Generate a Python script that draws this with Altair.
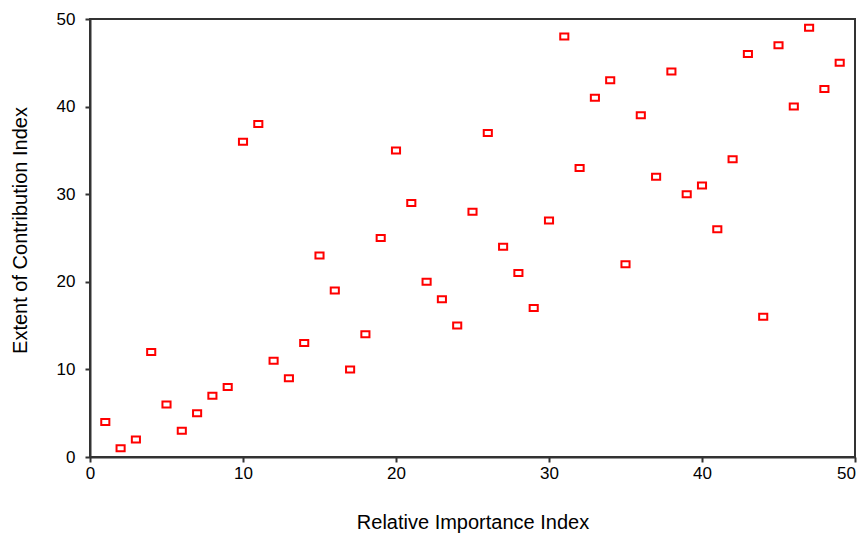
import altair as alt
import pandas as pd

relative_importance = list(range(1, 50))
extent_contribution = [4, 1, 2, 12, 6, 3, 5, 7, 8, 36, 38, 11, 9, 13, 23, 19, 10, 14, 25, 35,
                       29, 20, 18, 15, 28, 37, 24, 21, 17, 27, 48, 33, 41, 43, 22, 39, 32, 44, 30, 31,
                       26, 34, 46, 16, 47, 40, 49, 42, 45]
x_ticks = [0, 10, 20, 30, 40, 50]
y_ticks = [0, 10, 20, 30, 40, 50]

df = pd.DataFrame({"x": relative_importance, "y": extent_contribution})

chart = alt.Chart(df).mark_point(
    shape="M-1.35,-1L1.35,-1L1.35,1L-1.35,1Z",
    size=36,
    filled=False,
    color="#ff0000",
    strokeWidth=2,
    opacity=1,
).encode(
    x=alt.X("x:Q", scale=alt.Scale(domain=[0, 50], nice=False, zero=False),
            axis=alt.Axis(title="Relative Importance Index", values=x_ticks, grid=False,
                          tickSize=5, labelPadding=3, titlePadding=31, labelFlush=False,
                          labelOffset={"expr": "datum.value == 50 ? -9 : 0"},
                          labelFontSize=17, titleFontSize=20)),
    y=alt.Y("y:Q", scale=alt.Scale(domain=[0, 50], nice=False, zero=False),
            axis=alt.Axis(title="Extent of Contribution Index", values=y_ticks, grid=False,
                          tickSize=5, labelPadding=10, titlePadding=26, titleY=211,
                          labelFlush=False, labelFontSize=17, titleFontSize=20)),
).properties(
    width=765, height=438,
    autosize=alt.AutoSizeParams(type="none"),
    padding={"left": 82, "top": 11, "right": 2, "bottom": 77},
).configure_view(
    stroke="#333333", strokeWidth=2
).configure_axis(
    domainColor="#333333", domainWidth=2, tickColor="#333333", tickWidth=2,
    labelFont="Liberation Sans", titleFont="Liberation Sans",
    labelColor="#000000", titleFontWeight="normal", titleColor="#000000",
)

chart.save("out.html", embed_options={"renderer": "svg", "actions": False})
